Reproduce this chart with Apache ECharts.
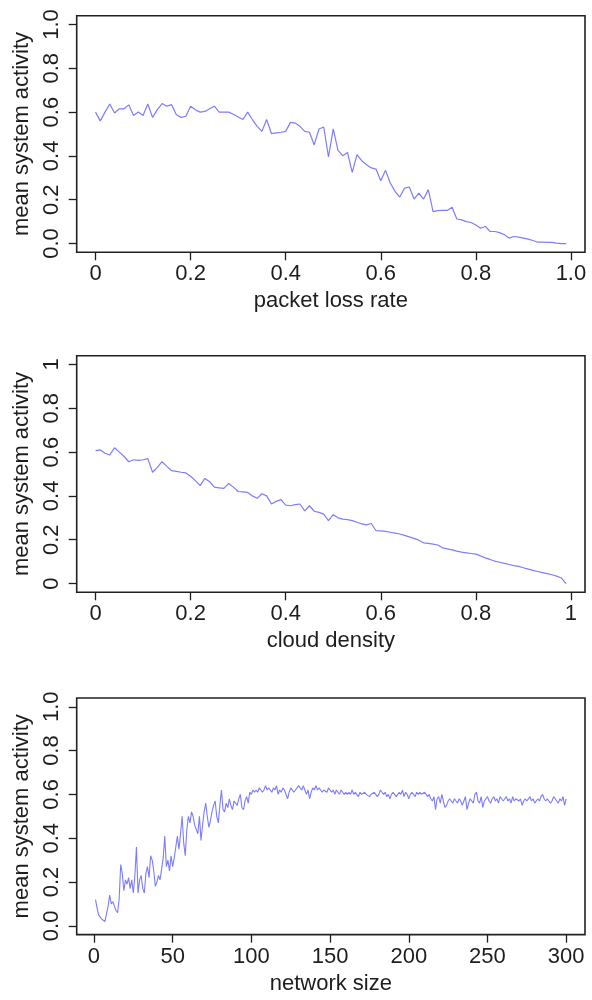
<!DOCTYPE html>
<html>
<head>
<meta charset="utf-8">
<script src="https://cdn.jsdelivr.net/npm/echarts@6/dist/echarts.min.js"></script>
<style>
  html, body { margin: 0; padding: 0; background: #fff; }
  #chart { width: 592px; height: 1000px; }
</style>
</head>
<body>
<div id="chart"></div>
<script>
// panel 1: packet loss rate 0.00 .. 0.99
const lossRate = [
  0.60, 0.56, 0.60, 0.637, 0.596, 0.615, 0.615, 0.633, 0.584, 0.60,
  0.584, 0.637, 0.576, 0.611, 0.639, 0.627, 0.634, 0.588, 0.576, 0.581,
  0.627, 0.611, 0.60, 0.603, 0.615, 0.627, 0.60, 0.60, 0.60, 0.59,
  0.578, 0.566, 0.60, 0.566, 0.535, 0.512, 0.566, 0.502, 0.505, 0.508,
  0.512, 0.553, 0.55, 0.535, 0.512, 0.508, 0.45, 0.523, 0.532, 0.395,
  0.523, 0.425, 0.401, 0.416, 0.325, 0.406, 0.378, 0.36, 0.345, 0.34,
  0.287, 0.334, 0.276, 0.238, 0.212, 0.253, 0.258, 0.203, 0.23, 0.203,
  0.246, 0.146, 0.15, 0.151, 0.151, 0.166, 0.112, 0.108, 0.10, 0.096,
  0.085, 0.07, 0.078, 0.055, 0.055, 0.05, 0.04, 0.025, 0.032, 0.029,
  0.025, 0.02, 0.014, 0.006, 0.006, 0.005, 0.005, 0.002, 0.0, 0.0
];

// panel 2: cloud density 0.00 .. 0.99
const cloudDensity = [
  0.607, 0.61, 0.595, 0.587, 0.62, 0.60, 0.58, 0.556, 0.565, 0.562,
  0.565, 0.57, 0.508, 0.53, 0.556, 0.535, 0.515, 0.512, 0.508, 0.505,
  0.49, 0.47, 0.447, 0.48, 0.465, 0.44, 0.437, 0.434, 0.457, 0.44,
  0.42, 0.418, 0.416, 0.40, 0.389, 0.41, 0.40, 0.363, 0.375, 0.383,
  0.358, 0.355, 0.36, 0.363, 0.332, 0.355, 0.33, 0.325, 0.317, 0.287,
  0.314, 0.30, 0.294, 0.292, 0.287, 0.28, 0.272, 0.268, 0.274, 0.241,
  0.24, 0.238, 0.234, 0.23, 0.226, 0.22, 0.213, 0.206, 0.198, 0.186,
  0.183, 0.18, 0.176, 0.163, 0.158, 0.154, 0.148, 0.143, 0.14, 0.137,
  0.134, 0.126, 0.117, 0.11, 0.102, 0.097, 0.092, 0.087, 0.082, 0.078,
  0.072, 0.066, 0.06, 0.055, 0.05, 0.045, 0.04, 0.034, 0.025, 0.0
];

// panel 3: network size 1 .. 300
const networkSize = [
  0.12, 0.08, 0.05, 0.04, 0.03, 0.03, 0.02, 0.02, 0.09, 0.14,
  0.10, 0.11, 0.09, 0.07, 0.06, 0.12, 0.28, 0.24, 0.16, 0.21,
  0.19, 0.22, 0.17, 0.21, 0.15, 0.23, 0.36, 0.15, 0.21, 0.23,
  0.17, 0.15, 0.24, 0.27, 0.22, 0.32, 0.30, 0.25, 0.18, 0.20,
  0.23, 0.21, 0.26, 0.31, 0.41, 0.27, 0.30, 0.25, 0.32, 0.27,
  0.31, 0.36, 0.41, 0.35, 0.42, 0.50, 0.38, 0.32, 0.44, 0.50,
  0.47, 0.52, 0.50, 0.46, 0.44, 0.42, 0.50, 0.39, 0.46, 0.52,
  0.56, 0.50, 0.45, 0.48, 0.52, 0.55, 0.57, 0.50, 0.47, 0.55,
  0.62, 0.53, 0.52, 0.56, 0.54, 0.58, 0.55, 0.53, 0.57, 0.56,
  0.55, 0.58, 0.60, 0.54, 0.53, 0.57, 0.59, 0.56, 0.61, 0.60,
  0.62, 0.61, 0.62, 0.61, 0.63, 0.62, 0.61, 0.62, 0.64, 0.62,
  0.63, 0.62, 0.61, 0.63, 0.62, 0.64, 0.60, 0.62, 0.61, 0.63,
  0.62, 0.60, 0.58, 0.61, 0.63, 0.62, 0.61, 0.62, 0.63, 0.64,
  0.63, 0.62, 0.64, 0.62, 0.60, 0.62, 0.58, 0.61, 0.63, 0.62,
  0.64, 0.62, 0.63, 0.62, 0.61, 0.62, 0.62, 0.61, 0.63, 0.62,
  0.61, 0.62, 0.60, 0.62, 0.61, 0.60, 0.62, 0.61, 0.60, 0.61,
  0.60, 0.61, 0.60, 0.62, 0.60, 0.61, 0.60, 0.59, 0.61, 0.60,
  0.60, 0.61, 0.60, 0.60, 0.59, 0.60, 0.60, 0.61, 0.60, 0.59,
  0.60, 0.62, 0.61, 0.60, 0.61, 0.59, 0.60, 0.58, 0.60, 0.61,
  0.60, 0.59, 0.60, 0.61, 0.60, 0.62, 0.59, 0.61, 0.60, 0.58,
  0.60, 0.61, 0.60, 0.59, 0.61, 0.60, 0.61, 0.60, 0.60, 0.61,
  0.60, 0.59, 0.60, 0.58, 0.57, 0.59, 0.53, 0.58, 0.59, 0.56,
  0.60, 0.57, 0.54, 0.55, 0.57, 0.58, 0.57, 0.56, 0.58, 0.57,
  0.56, 0.58, 0.57, 0.55, 0.57, 0.59, 0.53, 0.56, 0.58, 0.57,
  0.56, 0.60, 0.61, 0.57, 0.56, 0.59, 0.54, 0.57, 0.58, 0.59,
  0.57, 0.56, 0.58, 0.59, 0.57, 0.58, 0.56, 0.59, 0.58, 0.57,
  0.58, 0.59, 0.57, 0.58, 0.56, 0.59, 0.57, 0.58, 0.58, 0.57,
  0.58, 0.55, 0.57, 0.58, 0.57, 0.58, 0.59, 0.57, 0.58, 0.56,
  0.57, 0.58, 0.57, 0.59, 0.60, 0.58, 0.57, 0.58, 0.57, 0.56,
  0.57, 0.59, 0.58, 0.57, 0.56, 0.58, 0.57, 0.59, 0.55, 0.58
];

const unitTicks = [0, 0.2, 0.4, 0.6, 0.8, 1];
const sizeTicks = [0, 50, 100, 150, 200, 250, 300];
const unitLabels1 = ['0', '0.2', '0.4', '0.6', '0.8', '1.0'];
const unitLabels2 = ['0', '0.2', '0.4', '0.6', '0.8', '1'];
const yLabelsDec = ['0.0', '0.2', '0.4', '0.6', '0.8', '1.0'];
const yLabelsShort = ['0', '0.2', '0.4', '0.6', '0.8', '1'];

const FONT = '"Liberation Sans", Arial, sans-serif';
const INK = '#1e1e1e';
const LINE = '#7d7dff';

function pairs(vals, start, step) {
  return vals.map((v, i) => [start + i * step, v]);
}

function labelFor(ticks, labels) {
  return v => {
    const i = ticks.findIndex(t => Math.abs(t - v) < 1e-9);
    return i < 0 ? '' : labels[i];
  };
}

function xAxis(idx, min, max, ticks, labels, name) {
  return {
    gridIndex: idx, type: 'value', min: min, max: max,
    axisLine: { show: false, onZero: false },
    splitLine: { show: false },
    axisTick: { show: true, length: 8, customValues: ticks, lineStyle: { color: INK, width: 1.3 } },
    axisLabel: { customValues: ticks, formatter: labelFor(ticks, labels), fontSize: 22, fontFamily: FONT, color: INK, margin: 11 },
    name: name, nameLocation: 'middle', nameGap: 38,
    nameTextStyle: { fontSize: 22, fontFamily: FONT, color: INK }
  };
}

function yAxis(idx, labels) {
  return {
    gridIndex: idx, type: 'value', min: -0.04, max: 1.04,
    axisLine: { show: false, onZero: false },
    splitLine: { show: false },
    axisTick: { show: true, length: 8, customValues: unitTicks, lineStyle: { color: INK, width: 1.3 } },
    axisLabel: { customValues: unitTicks, formatter: labelFor(unitTicks, labels), rotate: 90, fontSize: 22, fontFamily: FONT, color: INK, margin: 14 },
    name: 'mean system activity', nameLocation: 'middle', nameGap: 44,
    nameTextStyle: { fontSize: 22, fontFamily: FONT, color: INK }
  };
}

const gridBase = { left: 76.7, width: 508.3, height: 236.6, show: true, borderColor: '#222', borderWidth: 1.6, backgroundColor: 'transparent' };

const chart = echarts.init(document.getElementById('chart'), null, { renderer: 'canvas' });
chart.setOption({
  backgroundColor: '#ffffff',
  animation: false,
  grid: [
    Object.assign({}, gridBase, { top: 15.7 }),
    Object.assign({}, gridBase, { top: 355.7 }),
    Object.assign({}, gridBase, { top: 698 })
  ],
  xAxis: [
    xAxis(0, -0.0396, 1.0296, unitTicks, unitLabels1, 'packet loss rate'),
    xAxis(1, -0.0396, 1.0296, unitTicks, unitLabels2, 'cloud density'),
    xAxis(2, -10.96, 311.96, sizeTicks, sizeTicks.map(String), 'network size')
  ],
  yAxis: [
    yAxis(0, yLabelsDec),
    yAxis(1, yLabelsShort),
    yAxis(2, yLabelsDec)
  ],
  series: [
    { type: 'line', xAxisIndex: 0, yAxisIndex: 0, data: pairs(lossRate, 0, 0.01), showSymbol: false, lineStyle: { color: LINE, width: 1.2 } },
    { type: 'line', xAxisIndex: 1, yAxisIndex: 1, data: pairs(cloudDensity, 0, 0.01), showSymbol: false, lineStyle: { color: LINE, width: 1.2 } },
    { type: 'line', xAxisIndex: 2, yAxisIndex: 2, data: pairs(networkSize, 1, 1), showSymbol: false, lineStyle: { color: LINE, width: 1.1 } }
  ]
});
</script>
</body>
</html>
